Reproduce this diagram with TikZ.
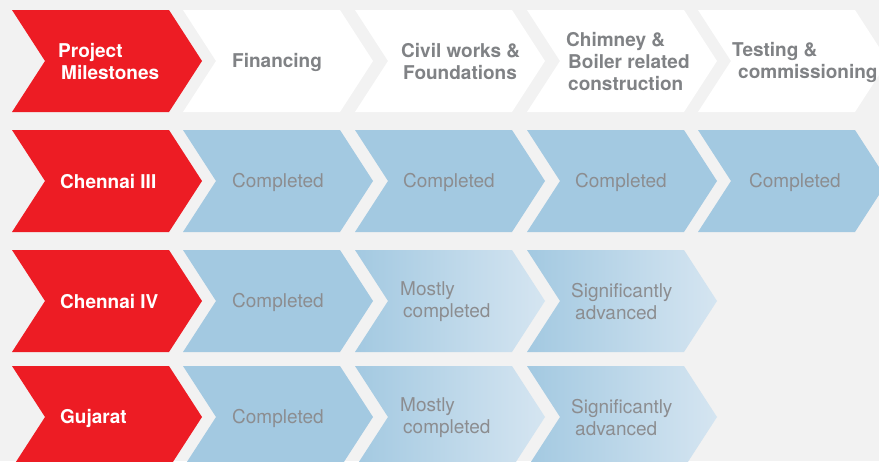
\documentclass[tikz,border=0pt]{standalone}
\usepackage{fontspec}
\setmainfont{TeX Gyre Heros}

\definecolor{paper}{HTML}{F2F2F2}
\definecolor{milered}{HTML}{ED1C24}
\definecolor{doneblue}{HTML}{A3C9E1}
\definecolor{fadeblue}{HTML}{D5E5F1}
\definecolor{headgrey}{HTML}{808285}
\definecolor{stategrey}{HTML}{8C8D90}

% one chevron: left edge, top edge, fill
\newcommand\chevshape[3]{\path[#3] (#1,#2) -- ++(157,0) -- ++(33,51) -- ++(-33,51) -- ++(-157,0) -- ++(33,-51) -- cycle;}

\begin{document}
\begin{tikzpicture}[x=1pt,y=-1pt,
	state/.style={font=\fontsize{19}{22}\selectfont, text=stategrey, align=left, inner sep=0pt, anchor=west},
	head/.style={state, font=\fontsize{19}{22}\selectfont\bfseries, text=headgrey},
	site/.style={head, text=white},
	done/.style={fill=doneblue},
	partly/.style={left color=doneblue, right color=fadeblue}]

	\useasboundingbox (0,0) rectangle (879,461);
	\fill[paper] (0,0) rectangle (879,461);
	\clip (0,0) rectangle (879,461);

	\foreach \t in {10,130,250,366} {\chevshape{12}{\t}{fill=milered}}
	\foreach \x in {183,355,527,698} {\chevshape{\x}{10}{fill=white}}
	\foreach \x in {183,355,527,698} {\chevshape{\x}{130}{done}}
	\foreach \t in {250,366} {
		\chevshape{183}{\t}{done}
		\chevshape{355}{\t}{partly}
		\chevshape{527}{\t}{partly}
	}

	\node(hd1) at (58,62)[site]{Project\\\hspace*{3pt}Milestones};
	\node(hd2) at (232,62)[head]{Financing};
	\node(hd3) at (401,62)[head]{Civil works \&\\\hspace*{2pt}Foundations};
	\node(hd4) at (566,62)[head]{Chimney \&\\\hspace*{2pt}Boiler related\\\hspace*{2pt}construction};
	\node(hd5) at (732,62)[head]{Testing \&\\\hspace*{6pt}commissioning};

	\node(ch3) at (60,182)[site]{Chennai III};
	\node(ch3a) at (232,182)[state]{Completed};
	\node(ch3b) at (403,182)[state]{Completed};
	\node(ch3c) at (575,182)[state]{Completed};
	\node(ch3d) at (749,182)[state]{Completed};

	\node(ch4) at (60,302)[site]{Chennai IV};
	\node(ch4a) at (232,302)[state]{Completed};
	\node(ch4b) at (400,302)[state]{Mostly\\\hspace*{3pt}completed};
	\node(ch4c) at (571,302)[state]{Significantly\\\hspace*{4pt}advanced};

	\node(guj) at (60,418)[site]{Gujarat};
	\node(guja) at (232,418)[state]{Completed};
	\node(gujb) at (400,418)[state]{Mostly\\\hspace*{3pt}completed};
	\node(gujc) at (571,418)[state]{Significantly\\\hspace*{4pt}advanced};

\end{tikzpicture}
\end{document}
